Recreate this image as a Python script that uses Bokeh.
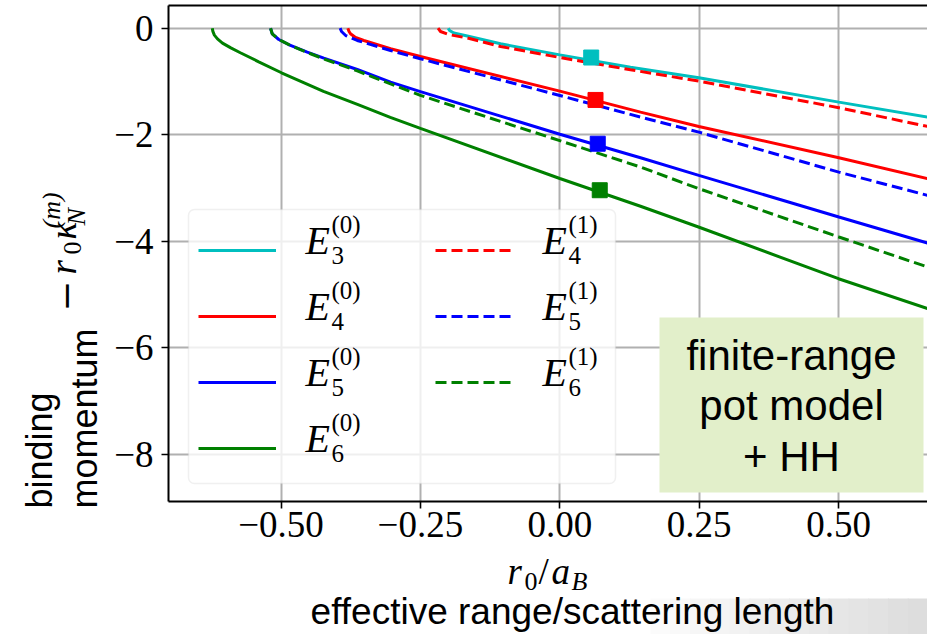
import math
from bokeh.plotting import figure
from bokeh.models import Legend, LegendItem, Label, BoxAnnotation, FixedTicker, LinearAxis, Range1d
from bokeh.core.properties import value
from bokeh.embed import file_html
from bokeh.resources import INLINE

# ---------------- data ----------------
E3_0_x = [-0.2001, -0.1978, -0.190, -0.166, -0.1063, 0.0, 0.1268, 0.2493, 0.5004, 0.6594]
E3_0_y = [0.0, -0.043, -0.090, -0.146, -0.292, -0.500, -0.731, -0.930, -1.387, -1.668]

E4_0_x = [-0.3802, -0.378, -0.3754, -0.3664, -0.3515, -0.3036, -0.25, 0.0, 0.1447, 0.2493, 0.5004, 0.6594]
E4_0_y = [0.0, -0.062, -0.105, -0.174, -0.231, -0.386, -0.530, -1.180, -1.575, -1.843, -2.430, -2.823]

E5_0_x = [-0.5188, -0.5158, -0.504, -0.483, -0.453, -0.4232, -0.3633, -0.3036, -0.25, 0.0, 0.1447, 0.2493, 0.5004, 0.6594]
E5_0_y = [0.0, -0.105, -0.212, -0.324, -0.450, -0.562, -0.774, -1.012, -1.190, -1.990, -2.430, -2.761, -3.543, -4.030]

E6_0_x = [-0.6233, -0.6222, -0.6195, -0.6140, -0.605, -0.590, -0.573, -0.540, -0.4992, -0.4238, -0.363, -0.304, -0.25, 0.0, 0.1447, 0.2487, 0.4998, 0.6595]
E6_0_y = [0.0, -0.06, -0.13, -0.20, -0.28, -0.37, -0.46, -0.63, -0.836, -1.186, -1.430, -1.674, -1.880, -2.820, -3.340, -3.730, -4.700, -5.260]

E4_1_x = [-0.2184, -0.214, -0.1996, -0.166, -0.1063, 0.0, 0.1268, 0.2493, 0.5004, 0.6594]
E4_1_y = [0.0, -0.062, -0.118, -0.184, -0.343, -0.550, -0.780, -0.993, -1.492, -1.843]

E5_1_x = [-0.394, -0.3915, -0.384, -0.3633, -0.3036, -0.25, 0.0, 0.1447, 0.2493, 0.5004, 0.6594]
E5_1_y = [0.0, -0.062, -0.137, -0.230, -0.418, -0.574, -1.262, -1.668, -1.950, -2.700, -3.136]

E6_1_x = [-0.5188, -0.5158, -0.504, -0.483, -0.453, -0.4232, -0.3633, -0.3036, -0.25, 0.0, 0.1447, 0.2493, 0.5004, 0.6594]
E6_1_y = [0.0, -0.105, -0.212, -0.324, -0.455, -0.577, -0.800, -1.046, -1.260, -2.110, -2.605, -3.010, -3.917, -4.480]

MARK_X = [0.0563, 0.064, 0.068, 0.0716]
MARK_Y = [-0.550, -1.346, -2.167, -3.040]

XTICKS = [-0.5, -0.25, 0.0, 0.25, 0.5]
XTICK_LABELS = ["\u22120.50", "\u22120.25", "0.00", "0.25", "0.50"]
YTICKS = [0, -2, -4, -6, -8]
YTICK_LABELS = ["0", "\u22122", "\u22124", "\u22126", "\u22128"]

LEGEND_SUBS = ["3", "4", "5", "6", "4", "5", "6"]
LEGEND_SUPS = ["(0)", "(0)", "(0)", "(0)", "(1)", "(1)", "(1)"]

BOX_LINES = ["finite-range", "pot model", "+ HH"]
BOTTOM_TEXT = "effective range/scattering length"
YLABEL_WORDS = ["binding", "momentum"]

# ---------------- styling / layout ----------------
CYAN, RED, BLUE, GREEN = "#00bfbf", "#ff0000", "#0000ff", "#008000"
W, H = 927, 634
FL, FT, FB = 168, 5, 501          # frame left / top / bottom in canvas px
SERIF = "Liberation Serif"
SANS = "Liberation Sans"
K = 0.32                          # baseline correction (fraction of font size)

p = figure(width=W, height=H, output_backend="svg", toolbar_location=None,
           x_range=Range1d(-0.7018, 0.6594), y_range=Range1d(-8.88, 0.426),
           min_border_left=FL, min_border_right=0, min_border_top=FT,
           min_border_bottom=H - FB)
p.outline_line_color = None
p.background_fill_color = "white"
p.border_fill_color = "white"

for ax, ticks, labels in ((p.xaxis, XTICKS, XTICK_LABELS), (p.yaxis, YTICKS, YTICK_LABELS)):
    ax.ticker = FixedTicker(ticks=ticks)
    ax.major_label_overrides = {t: l for t, l in zip(ticks, labels)}
    ax.axis_line_width = 2
    ax.axis_line_color = "black"
    ax.major_tick_out = 7
    ax.major_tick_in = 0
    ax.minor_tick_out = 0
    ax.minor_tick_in = 0
    ax.major_tick_line_width = 1.6
    ax.major_tick_line_color = "black"
    ax.major_label_text_font = SERIF
    ax.major_label_text_font_size = "37px"
    ax.major_label_text_color = "black"
p.xaxis.major_label_standoff = 3
p.yaxis.major_label_standoff = 8

for g in (p.xgrid, p.ygrid):
    g.grid_line_color = "#b0b0b0"
    g.grid_line_width = 2

top = LinearAxis(ticker=FixedTicker(ticks=[]), major_tick_out=0, major_tick_in=0,
                 minor_tick_out=0, minor_tick_in=0, major_label_text_font_size="0px",
                 axis_line_width=2, axis_line_color="black")
p.add_layout(top, "above")

series = [
    (E3_0_x, E3_0_y, CYAN, "solid"),
    (E4_0_x, E4_0_y, RED, "solid"),
    (E5_0_x, E5_0_y, BLUE, "solid"),
    (E6_0_x, E6_0_y, GREEN, "solid"),
    (E4_1_x, E4_1_y, RED, "11 5"),
    (E5_1_x, E5_1_y, BLUE, "11 5"),
    (E6_1_x, E6_1_y, GREEN, "11 5"),
]
renderers = []
for xs, ys, c, dash in series:
    renderers.append(p.line(xs, ys, line_color=c, line_width=3, line_dash=dash))

p.scatter(MARK_X, MARK_Y, marker="square", size=15,
          fill_color=[CYAN, RED, BLUE, GREEN], line_color=[CYAN, RED, BLUE, GREEN])


def box(fig, l, t, r, b, fx=FL, fb=FB, **kw):
    ba = BoxAnnotation(left=l - fx, right=r - fx, top=fb - t, bottom=fb - b,
                       left_units="screen", right_units="screen",
                       top_units="screen", bottom_units="screen", **kw)
    fig.add_layout(ba)
    return ba


def lab(fig, text, x, y, size, fx=FL, fb=FB, font=SERIF, style="normal", angle=0.0,
        align="left", baseline="alphabetic", color="black"):
    if angle == 0:
        y = y - K * size
    else:
        x = x - K * size
    fig.add_layout(Label(x=x - fx, y=fb - y, x_units="screen", y_units="screen", text=text,
                         text_font=font, text_font_size="%dpx" % size, text_font_style=style,
                         text_color=color, angle=angle, text_align=align,
                         text_baseline=baseline))


# legend frame (semi-transparent, rounded)
box(p, 188, 209, 615, 483, fill_color="white", fill_alpha=0.8, line_color="#cccccc",
    line_width=1.5, border_radius=6)

legend = Legend(items=[LegendItem(label=value(""), renderers=[r]) for r in renderers],
                location=(188 - FL - 2, FB - 483 - 2), orientation="vertical", ncols=2,
                glyph_width=78, glyph_height=50, label_height=50, label_width=116,
                label_standoff=27, spacing=16, padding=12, margin=0,
                border_line_alpha=0, background_fill_alpha=0, label_text_font_size="1px")
p.add_layout(legend, "center")

ROW_Y = [250, 316, 382, 448]
for i, (sub, sup) in enumerate(zip(LEGEND_SUBS, LEGEND_SUPS)):
    col = 0 if i < 4 else 1
    row = i if i < 4 else i - 4
    Y = ROW_Y[row]
    ex = 305 if col == 0 else 542
    lab(p, "E", ex, Y + 3, 40, style="italic")
    lab(p, sup, ex + 26, Y - 18, 25)
    lab(p, sub, ex + 26, Y + 13, 25)

# green text box
box(p, 659, 317, 923, 492, fill_color="#e2efca", fill_alpha=1.0, line_alpha=0)
for txt, base in zip(BOX_LINES, [368, 418, 469]):
    lab(p, txt, 791, base, 42, font=SANS, align="center")

# ---------------- transparent overlay for the texts outside the plot frame ----------------
ov = figure(width=W, height=H, output_backend="svg", toolbar_location=None,
            x_range=Range1d(0, W), y_range=Range1d(0, H),
            x_axis_location=None, y_axis_location=None,
            min_border_left=0, min_border_right=0, min_border_top=0, min_border_bottom=0)
ov.outline_line_color = None
ov.background_fill_alpha = 0
ov.border_fill_alpha = 0
ov.grid.visible = False
ov.styles = {"position": "absolute", "left": "0px", "top": "0px"}

O = dict(fx=0, fb=H)

# bottom gradient band
N = 14
for k in range(N):
    x0 = 650 + k * (927 - 650) / N
    x1 = 650 + (k + 1) * (927 - 650) / N + 1
    g = int(round(252 - 32 * (k + 0.5) / N))
    box(ov, x0, 598, x1, 634, fill_color="#%02x%02x%02x" % (g, g, g), fill_alpha=1.0,
        line_alpha=0, **O)

lab(ov, BOTTOM_TEXT, 572, 623, 37, font=SANS, align="center", **O)

# x axis math label r0/aB
lab(ov, "r", 507, 583, 37, style="italic", **O)
lab(ov, "0", 524, 589, 26, **O)
lab(ov, "/", 538, 583, 37, **O)
lab(ov, "a", 551, 583, 37, style="italic", **O)
lab(ov, "B", 571, 589, 26, style="italic", **O)

# y axis math label  -r0 kappa_N^(m)  (rotated)
A = math.pi / 2
lab(ov, "\u2212", 77, 311, 37, font="DejaVu Serif", angle=A, **O)
lab(ov, "r", 75, 274, 37, style="italic", angle=A, **O)
lab(ov, "0", 80, 254, 26, angle=A, **O)
lab(ov, "\u03ba", 75, 239, 37, style="italic", angle=A, **O)
lab(ov, "N", 84, 225, 26, style="italic", angle=A, **O)
lab(ov, "(m)", 59, 228, 26, style="italic", angle=A, **O)

# slide overlay label
lab(ov, YLABEL_WORDS[0], 51, 508, 36, font=SANS, angle=A, **O)
lab(ov, YLABEL_WORDS[1], 96, 508, 36, font=SANS, angle=A, **O)

open("out.html", "w").write(file_html([p, ov], INLINE))
